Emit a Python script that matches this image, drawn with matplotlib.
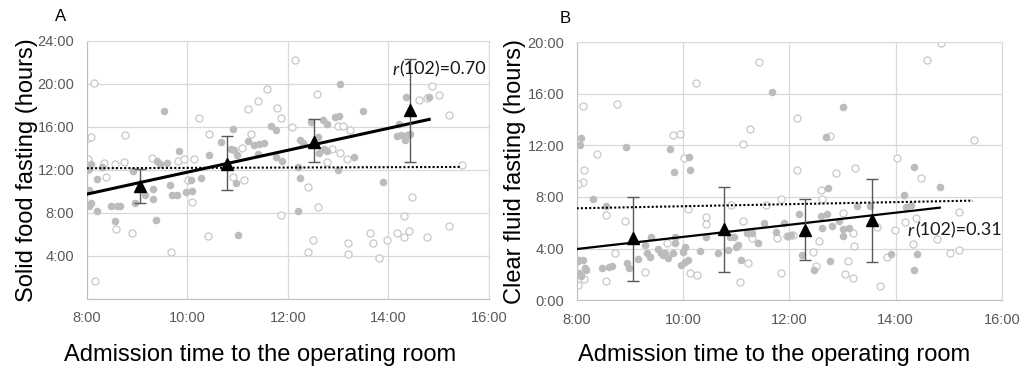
import numpy as np
import matplotlib
matplotlib.use("Agg")
import matplotlib.pyplot as plt
from matplotlib.ticker import FuncFormatter, MultipleLocator

plt.rcParams['font.family'] = ['Liberation Sans', 'DejaVu Sans']

# ---- panel A: solid food fasting (hours) vs admission time (hours of day)
a_fill_x = [8.00, 8.05, 8.08, 8.21, 8.30, 8.92, 8.05, 8.08, 8.05, 8.21, 8.48, 8.61, 8.66, 8.56,
            8.97, 9.15, 9.31, 9.31, 9.37, 9.54, 9.84, 9.39, 9.45, 9.60, 9.66, 9.70, 9.80, 9.97,
            10.10, 10.08, 10.28, 10.43, 10.68, 10.90, 10.87, 10.92, 10.98, 10.96, 11.00, 11.20,
            11.33, 11.43, 11.53, 11.40, 11.67, 11.77, 11.76, 11.89, 13.04, 13.50, 12.46, 12.69,
            12.78, 12.93, 13.02, 12.25, 12.31, 12.60, 12.71, 12.78, 12.61, 13.31, 12.20, 12.99,
            12.25, 13.90, 12.21, 14.17, 14.24, 14.32, 14.37, 14.42, 14.20, 14.35, 14.80]
a_fill_y = [11.97, 12.06, 12.50, 11.16, 12.27, 11.90, 10.10, 8.93, 8.60, 8.20, 8.60, 8.60, 8.65, 7.24,
            8.88, 9.65, 10.20, 9.28, 7.33, 17.47, 13.76, 12.83, 12.55, 12.60, 10.58, 9.65, 9.70, 9.95,
            10.05, 11.04, 11.25, 13.36, 14.60, 15.77, 13.90, 13.80, 13.36, 10.79, 5.94, 14.68,
            14.30, 14.40, 14.50, 13.50, 16.10, 15.70, 13.20, 12.83, 20.00, 17.47, 16.45, 16.60,
            16.30, 16.90, 16.97, 14.75, 14.50, 15.06, 13.98, 13.76, 13.52, 13.20, 12.22, 11.97,
            11.25, 10.88, 8.16, 15.12, 15.21, 14.80, 15.21, 15.30, 16.30, 18.77, 18.77]
a_open_x = [8.15, 8.03, 8.08, 8.76, 8.03, 8.38, 8.56, 8.74, 8.35, 9.30, 9.82, 9.94, 10.14, 10.02,
            10.10, 10.24, 10.43, 8.58, 8.91, 9.68, 10.41, 8.16, 11.08, 11.26, 10.90, 11.12, 11.21,
            11.41, 11.58, 11.78, 11.87, 11.86, 12.15, 12.58, 12.08, 13.00, 13.10, 13.24, 12.87,
            13.04, 13.17, 12.78, 12.41, 12.60, 14.47, 14.30, 12.50, 12.41, 13.19, 13.19, 13.64,
            13.69, 13.82, 13.97, 14.17, 14.30, 14.40, 14.77, 15.20, 14.60, 14.77, 14.87, 15.01,
            15.20, 15.46]
a_open_y = [20.07, 15.00, 15.06, 15.24, 12.96, 11.35, 12.52, 12.74, 12.60, 13.10, 12.83, 12.96, 13.05, 11.04,
            9.03, 16.82, 15.37, 6.46, 6.09, 4.33, 5.84, 1.67, 14.07, 15.30, 11.35, 11.04, 17.69,
            18.40, 19.55, 17.78, 16.82, 7.79, 22.17, 19.08, 15.98, 16.05, 16.05, 15.68, 13.89,
            13.52, 13.05, 12.74, 10.42, 8.56, 9.49, 7.70, 5.47, 4.33, 5.22, 4.17, 6.09,
            5.22, 3.77, 5.47, 6.09, 5.78, 6.28, 5.72, 6.77, 18.50, 18.70, 19.80, 19.00,
            17.10, 12.43]
a_mean_x = [9.05, 10.78, 12.51, 14.43]
a_mean_y = [10.48, 12.52, 14.60, 17.53]
a_lo = [8.88, 10.11, 12.71, 12.71]
a_hi = [12.09, 15.15, 16.70, 22.33]
a_fit = (1.58, 1.02)       # intercept, slope (solid)
a_ref = (12.02, 0.016)     # intercept, slope (dotted)

# ---- panel B: clear fluid fasting
b_fill_x = [8.09, 8.06, 8.92, 9.75, 10.11, 10.13, 9.83, 8.31, 8.56, 8.05, 8.12, 8.02, 8.15, 8.05,
            8.18, 8.08, 8.47, 8.60, 8.66, 8.94, 8.98, 9.16, 9.28, 9.32, 9.38, 9.40, 9.53, 9.58,
            9.63, 9.66, 9.72, 9.85, 9.82, 9.85, 9.97, 10.04, 10.09, 10.00, 10.04, 10.32, 10.44,
            10.66, 10.85, 10.88, 10.96, 11.00, 11.04, 11.09, 11.20, 11.29, 11.41, 11.53, 11.90,
            11.98, 11.75, 13.00, 12.69, 14.34, 12.72, 14.83, 14.16, 14.20, 14.28, 13.28, 13.51,
            12.18, 12.59, 12.70, 12.94, 12.62, 12.81, 13.01, 13.12, 13.00, 12.23, 12.77, 12.47,
            13.92, 14.41, 14.35, 12.03, 11.68]
b_fill_y = [12.60, 12.04, 11.90, 11.70, 11.13, 10.10, 9.97, 7.82, 7.30, 3.10, 3.10, 3.00, 2.46, 2.07,
            2.30, 1.90, 2.46, 2.59, 2.64, 2.90, 2.46, 3.16, 4.27, 3.62, 3.36, 4.91, 4.00, 3.62,
            3.49, 3.67, 3.23, 4.40, 3.62, 4.91, 2.71, 2.97, 3.10, 3.75, 4.14, 3.80, 4.87,
            3.67, 3.88, 4.87, 4.87, 4.14, 4.27, 3.10, 5.23, 5.18, 4.45, 6.00, 5.95,
            4.97, 5.30, 15.01, 12.68, 10.34, 8.72, 8.80, 8.15, 7.25, 7.38, 7.31, 7.31,
            6.68, 6.55, 6.68, 6.13, 5.57, 5.75, 5.49, 5.57, 4.97, 3.49, 3.03, 2.33,
            3.57, 3.57, 2.33, 5.05, 16.18]
b_open_x = [9.82, 9.94, 11.26, 11.13, 8.38, 10.02, 8.14, 8.12, 8.02, 8.56, 8.90, 10.10, 10.44, 10.44,
            10.90, 11.13, 11.57, 11.85, 11.76, 11.30, 8.73, 9.69, 9.28, 10.13, 10.27, 8.56, 8.14,
            8.02, 11.07, 11.22, 11.85, 8.11, 8.75, 10.24, 11.43, 14.86, 14.58, 12.15, 12.76, 15.47,
            14.02, 12.14, 12.87, 13.24, 14.47, 12.59, 12.62, 13.00, 13.19, 13.64, 13.98, 12.56,
            13.21, 12.44, 13.10, 12.50, 13.83, 13.04, 13.19, 13.70, 14.17, 14.39, 14.32, 14.77,
            15.02, 15.19, 15.19, 11.95, 12.07]
b_open_y = [12.80, 12.87, 13.30, 12.10, 11.37, 11.06, 10.13, 9.17, 9.00, 6.60, 6.16, 7.04, 6.42, 5.90,
            7.38, 6.16, 7.38, 7.82, 4.79, 4.79, 3.67, 4.40, 2.20, 2.07, 1.94, 1.50, 1.60,
            1.16, 1.42, 2.90, 2.07, 15.04, 15.25, 16.85, 18.46, 19.93, 18.59, 14.16, 12.72, 12.40,
            11.05, 10.10, 9.89, 10.28, 9.50, 8.54, 7.82, 6.78, 5.18, 5.65, 5.44, 4.58,
            4.19, 3.75, 3.05, 2.64, 3.31, 2.02, 1.68, 1.11, 6.08, 6.34, 4.35, 4.71,
            3.62, 3.88, 6.81, 4.97, 5.05]
b_mean_x = [9.06, 10.77, 12.30, 13.56]
b_mean_y = [4.79, 5.49, 5.44, 6.20]
b_lo = [1.50, 2.20, 3.10, 2.93]
b_hi = [7.98, 8.80, 7.87, 9.42]
b_fit = (0.20, 0.47)
b_ref = (6.48, 0.08)

panels = [
    dict(fx=a_fill_x, fy=a_fill_y, ox=a_open_x, oy=a_open_y, mx=a_mean_x, my=a_mean_y,
         lo=a_lo, hi=a_hi, fit=a_fit, ref=a_ref, fit_end=14.81, ref_end=15.43, fit_lw=2.2,
         ymax=24, ylabel="Solid food fasting (hours)", tag="A", r="0.70",
         rpos=(14.07, 20.85), pos=[0.0846, 0.192, 0.3925, 0.698], zero=False,
         tag_x=-0.064, ylab_x=-0.121, xlab=(0.432, -0.217)),
    dict(fx=b_fill_x, fy=b_fill_y, ox=b_open_x, oy=b_open_y, mx=b_mean_x, my=b_mean_y,
         lo=b_lo, hi=b_hi, fit=b_fit, ref=b_ref, fit_end=14.83, ref_end=15.45, fit_lw=1.6,
         ymax=20, ylabel="Clear fluid fasting (hours)", tag="B", r="0.31",
         rpos=(14.23, 5.0), pos=[0.5626, 0.189, 0.415, 0.6967], zero=True,
         tag_x=-0.027, ylab_x=-0.119, xlab=(0.463, -0.213)),
]

fig = plt.figure(figsize=(10.25, 3.7), dpi=100)

for p in panels:
    ax = fig.add_axes(p["pos"])
    ax.set_xlim(8, 16)
    ax.set_ylim(0, p["ymax"])
    ax.xaxis.set_major_locator(MultipleLocator(2))
    ax.yaxis.set_major_locator(MultipleLocator(4))
    zero = p["zero"]
    ax.xaxis.set_major_formatter(FuncFormatter(lambda v, pos: "%d:00" % round(v)))
    ax.yaxis.set_major_formatter(FuncFormatter(
        lambda v, pos, z=zero: ("%d:00" % round(v)) if (v > 0 or z) else ""))
    ax.grid(True, color="#d9d9d9", lw=0.9)
    ax.set_axisbelow(True)
    for s in ax.spines.values():
        s.set_color("#d9d9d9")
    ax.spines["left"].set_color("#bfbfbf")
    ax.spines["bottom"].set_color("#bfbfbf")
    ax.tick_params(length=0, labelsize=10.5, labelcolor="#595959", pad=9)
    ax.tick_params(axis="x", pad=9)

    ax.scatter(p["ox"], p["oy"], s=26, facecolor="white", edgecolor="#c8c8c8", lw=0.9, zorder=2)
    ax.scatter(p["fx"], p["fy"], s=30, color="#bcbcbc", lw=0, zorder=3)

    xr = np.array([8, p["ref_end"]])
    ax.plot(xr, p["ref"][0] + p["ref"][1] * xr, color="black", ls=(0, (1, 1)), lw=1.5, zorder=4)
    xf = np.array([8, p["fit_end"]])
    ax.plot(xf, p["fit"][0] + p["fit"][1] * xf, color="black", lw=p["fit_lw"], zorder=5)

    my = np.array(p["my"])
    yerr = [my - np.array(p["lo"]), np.array(p["hi"]) - my]
    ax.errorbar(p["mx"], my, yerr=yerr, fmt="none", ecolor="#595959", elinewidth=1,
                capsize=4, capthick=1, zorder=6)
    ax.plot(p["mx"], my, ls="none", marker="^", ms=8, color="black", zorder=7)

    t = ax.text(p["rpos"][0], p["rpos"][1], "r", fontstyle="italic", family=["Lato", "DejaVu Sans"],
                fontsize=13, color="#1a1a1a", zorder=8)
    ax.annotate("(102)=" + p["r"], xy=(1, 0), xycoords=t, xytext=(1, 0), textcoords="offset points",
                family=["Lato", "DejaVu Sans"], fontsize=13, color="#1a1a1a", va="bottom", zorder=8)

    ax.set_ylabel(p["ylabel"], fontsize=17)
    ax.yaxis.set_label_coords(p["ylab_x"], 0.5)
    ax.set_xlabel("Admission time to the operating room", fontsize=17, va="center")
    ax.xaxis.set_label_coords(*p["xlab"])
    ax.text(p["tag_x"], 1.092, p["tag"], transform=ax.transAxes, fontsize=12, ha="center", va="center")

fig.savefig("out.png", dpi=100)
